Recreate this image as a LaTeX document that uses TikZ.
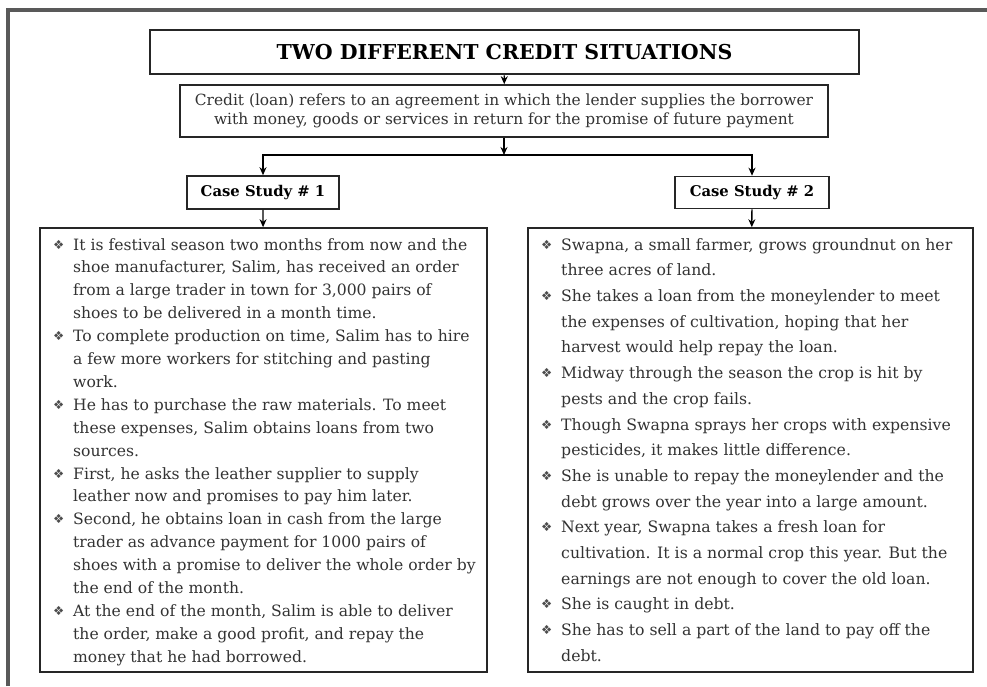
\documentclass[tikz,border=0pt]{standalone}
\usepackage{fontspec}
\setmainfont{DejaVu Serif}
\newfontfamily\symf{DejaVu Sans}
\usetikzlibrary{arrows.meta}
\newcommand\bul{\makebox[20pt][l]{\raisebox{1pt}{\color{black!70}\symf\fontsize{12.5}{12.5}\selectfont ❖}}}
\newcommand\ind{\hspace*{20pt}}
\begin{document}
\begin{tikzpicture}[x=1pt,y=-1pt,
  box/.style={draw=black!85, line width=1.6pt, inner sep=0pt},
  arr/.style={-{Stealth[length=8pt,width=7pt]}, line width=1.3pt, draw=black},
  body/.style={inner sep=0pt, align=left, text=black!80, anchor=north west}]
\useasboundingbox (0,0) rectangle (987,686);
\fill[white] (0,0) rectangle (987,686);
\draw[line width=3.5pt, gray!70!black] (8,686) -- (8,10) -- (987,10);

\node[box, line width=2.6pt, minimum width=709pt, minimum height=44pt,
  font=\fontsize{20.5}{24}\selectfont\bfseries] (title) at (504.5,52)
  {TWO DIFFERENT CREDIT SITUATIONS};
\node[box, minimum width=648pt, minimum height=52pt, align=center, text=black!80,
  font=\fontsize{15.4}{18.3}\selectfont] (credit) at (504,111)
  {Credit (loan) refers to an agreement in which the lender supplies the borrower\\
   with money, goods or services in return for the promise of future payment};
\node[box, minimum width=152pt, minimum height=33pt, font=\fontsize{14.8}{17}\selectfont\bfseries] (cs1) at (263,192.5)
  {Case Study \# 1};
\node[box, minimum width=154pt, minimum height=32pt, font=\fontsize{14.8}{17}\selectfont\bfseries] (cs2) at (752,192.5)
  {Case Study \# 2};
\node[box, minimum width=447pt, minimum height=444pt] (left) at (263.5,450) {};
\node[box, minimum width=445pt, minimum height=444pt] (right) at (750.5,450) {};
\coordinate (j) at (504,155);

\draw[arr] (title) -- (credit);
\draw[arr] (credit) -- (j);
\draw[arr] (j) -| (cs1.north);
\draw[arr] (j) -| (cs2.north);
\draw[arr] (cs1) -- (left);
\draw[arr] (cs2) -- (right);

\node[body, font=\fontsize{15.6}{22.9}\selectfont] (ltext) at (53,238) {%
\bul It is festival season two months from now and the\\
\ind shoe manufacturer, Salim, has received an order\\
\ind from a large trader in town for 3,000 pairs of\\
\ind shoes to be delivered in a month time.\\
\bul To complete production on time, Salim has to hire\\
\ind a few more workers for stitching and pasting\\
\ind work.\\
\bul He has to purchase the raw materials. To meet\\
\ind these expenses, Salim obtains loans from two\\
\ind sources.\\
\bul First, he asks the leather supplier to supply\\
\ind leather now and promises to pay him later.\\
\bul Second, he obtains loan in cash from the large\\
\ind trader as advance payment for 1000 pairs of\\
\ind shoes with a promise to deliver the whole order by\\
\ind the end of the month.\\
\bul At the end of the month, Salim is able to deliver\\
\ind the order, make a good profit, and repay the\\
\ind money that he had borrowed.};

\node[body, font=\fontsize{15.7}{25.7}\selectfont] (rtext) at (541,238) {%
\bul Swapna, a small farmer, grows groundnut on her\\
\ind three acres of land.\\
\bul She takes a loan from the moneylender to meet\\
\ind the expenses of cultivation, hoping that her\\
\ind harvest would help repay the loan.\\
\bul Midway through the season the crop is hit by\\
\ind pests and the crop fails.\\
\bul Though Swapna sprays her crops with expensive\\
\ind pesticides, it makes little difference.\\
\bul She is unable to repay the moneylender and the\\
\ind debt grows over the year into a large amount.\\
\bul Next year, Swapna takes a fresh loan for\\
\ind cultivation. It is a normal crop this year. But the\\
\ind earnings are not enough to cover the old loan.\\
\bul She is caught in debt.\\
\bul She has to sell a part of the land to pay off the\\
\ind debt.};
\end{tikzpicture}
\end{document}
